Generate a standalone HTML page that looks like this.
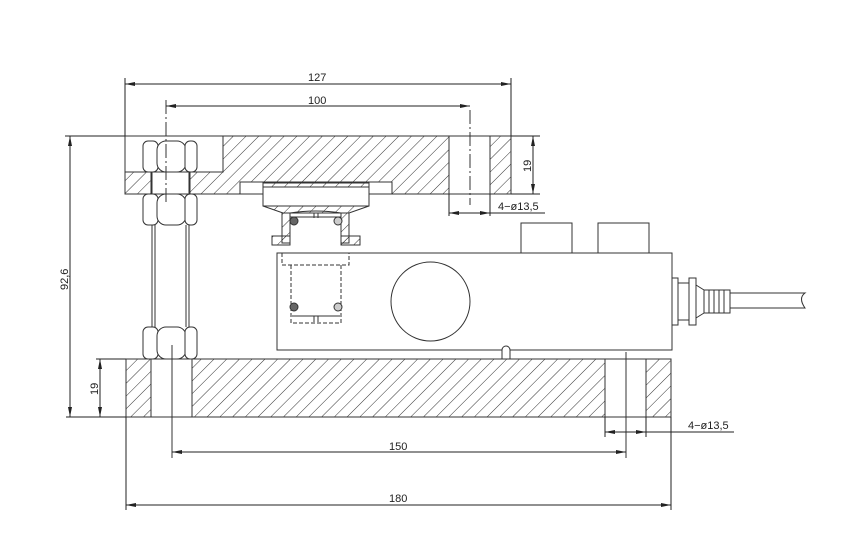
<!DOCTYPE html>
<html><head><meta charset="utf-8"><style>
html,body{margin:0;padding:0;background:#fff}
svg{display:block}
text{font-family:"Liberation Sans",sans-serif;font-size:11px;fill:#222}
</style></head><body>
<svg width="854" height="534" viewBox="0 0 854 534" xmlns="http://www.w3.org/2000/svg">
<defs>
<pattern id="h" patternUnits="userSpaceOnUse" width="9" height="9" patternTransform="rotate(45)">
<line x1="0" y1="0" x2="0" y2="9" stroke="#333" stroke-width="1"/>
</pattern>
<marker id="a" viewBox="0 0 10 4" refX="10" refY="2" markerWidth="10" markerHeight="4" orient="auto-start-reverse" markerUnits="userSpaceOnUse">
<path d="M0,0 L10,2 L0,4 z" fill="#222"/>
</marker>
</defs>
<g stroke="#333" stroke-width="1" fill="none">
<!-- top plate -->
<path d="M223,136 H449 V194 H392 V182 H240 V194 H190 V172 H223 Z" fill="url(#h)"/>
<rect x="125" y="172" width="26" height="22" fill="url(#h)"/>
<rect x="490" y="136" width="21" height="58" fill="url(#h)"/>
<rect x="125" y="136" width="386" height="58"/>
<line x1="125" y1="172" x2="223" y2="172"/>
<line x1="223" y1="136" x2="223" y2="172"/>
<line x1="449" y1="136" x2="449" y2="194"/>
<line x1="490" y1="136" x2="490" y2="194"/>
<line x1="470" y1="110" x2="470" y2="205" stroke-dasharray="14,3,2,3"/>
<!-- bolt -->
<line x1="152" y1="225" x2="152" y2="327"/><line x1="155" y1="225" x2="155" y2="327"/>
<line x1="186" y1="225" x2="186" y2="327"/><line x1="189" y1="225" x2="189" y2="327"/>
<line x1="152" y1="172" x2="152" y2="194"/><line x1="189" y1="172" x2="189" y2="194"/>
<g fill="#fff">
<rect x="143" y="141" width="15" height="31" rx="5"/><rect x="157" y="141" width="29" height="31" rx="9"/><rect x="185" y="141" width="12" height="31" rx="5"/>
<rect x="143" y="194" width="15" height="31" rx="5"/><rect x="157" y="194" width="29" height="31" rx="9"/><rect x="185" y="194" width="12" height="31" rx="5"/>
<rect x="143" y="327" width="15" height="32" rx="5"/><rect x="157" y="327" width="29" height="32" rx="9"/><rect x="185" y="327" width="12" height="32" rx="5"/>
</g>
<line x1="166" y1="100" x2="166" y2="205" stroke-dasharray="14,3,2,3"/>
<!-- rocker -->
<rect x="263" y="183" width="106" height="4" fill="url(#h)"/>
<rect x="263" y="187" width="106" height="19" fill="#fff"/>
<path d="M263,206 L283,213 H349 L369,206" fill="url(#h)"/>
<rect x="282" y="213" width="8" height="30" fill="url(#h)"/>
<rect x="341" y="213" width="8" height="30" fill="url(#h)"/>
<rect x="272" y="236" width="18" height="9" fill="url(#h)"/>
<rect x="341" y="236" width="19" height="9" fill="url(#h)"/>
<path d="M290,213 Q316,209 341,213 V217 H290 Z"/>
<line x1="314" y1="213" x2="314" y2="218"/><line x1="318" y1="213" x2="318" y2="218"/>
<circle cx="294" cy="221" r="4" fill="#666"/><circle cx="338" cy="221" r="4" fill="#ccc"/>
<!-- load cell -->
<rect x="521" y="223" width="51" height="30"/>
<rect x="598" y="223" width="51" height="30"/>
<path d="M277,253 H672 V350 H510 A4,4 0 0 0 502,350 H277 Z"/>
<line x1="502" y1="350" x2="502" y2="359"/><line x1="510" y1="350" x2="510" y2="359"/>
<circle cx="430.5" cy="301.5" r="39.5"/>
<g stroke-dasharray="4,2">
<path d="M282,253 V265 H349 V253"/>
<path d="M291,265 V323 H341 V265"/>
</g>
<line x1="292" y1="316" x2="340" y2="316"/>
<line x1="314" y1="316" x2="314" y2="322"/><line x1="318" y1="316" x2="318" y2="322"/>
<circle cx="294" cy="307" r="4" fill="#666"/><circle cx="338" cy="307" r="4" fill="#ccc"/>
<!-- connector -->
<rect x="672" y="278" width="6" height="47"/>
<rect x="678" y="283" width="11" height="37"/>
<rect x="689" y="278" width="7" height="47"/>
<path d="M696,285 L704,290 V313 L696,318"/>
<rect x="704" y="290" width="26" height="23"/>
<line x1="709" y1="290" x2="709" y2="313"/><line x1="714" y1="290" x2="714" y2="313"/><line x1="719" y1="290" x2="719" y2="313"/><line x1="724" y1="290" x2="724" y2="313"/>
<path d="M730,293 H805 Q798,298 805,308 H730"/>
<!-- base plate -->
<rect x="126" y="359" width="25" height="58" fill="url(#h)"/>
<rect x="192" y="359" width="413" height="58" fill="url(#h)"/>
<rect x="646" y="359" width="25" height="58" fill="url(#h)"/>
<rect x="126" y="359" width="545" height="58"/>
<line x1="151" y1="359" x2="151" y2="417"/><line x1="192" y1="359" x2="192" y2="417"/>
<line x1="605" y1="359" x2="605" y2="417"/><line x1="646" y1="359" x2="646" y2="417"/>
<line x1="172" y1="345" x2="172" y2="458"/>
<line x1="626" y1="352" x2="626" y2="458"/>
</g>
<!-- dimensions -->
<g stroke="#222" stroke-width="1" fill="none">
<line x1="125" y1="78" x2="125" y2="136"/><line x1="511" y1="78" x2="511" y2="136"/>
<line x1="125" y1="84" x2="511" y2="84" marker-start="url(#a)" marker-end="url(#a)"/>
<line x1="166" y1="106" x2="470" y2="106" marker-start="url(#a)" marker-end="url(#a)"/>
<line x1="511" y1="136" x2="540" y2="136"/><line x1="511" y1="194" x2="540" y2="194"/>
<line x1="533" y1="136" x2="533" y2="194" marker-start="url(#a)" marker-end="url(#a)"/>
<line x1="449" y1="194" x2="449" y2="216"/><line x1="490" y1="194" x2="490" y2="216"/>
<line x1="449" y1="213" x2="490" y2="213" marker-start="url(#a)" marker-end="url(#a)"/>
<line x1="490" y1="213" x2="545" y2="213"/>
<line x1="65" y1="136" x2="125" y2="136"/><line x1="66" y1="417" x2="126" y2="417"/>
<line x1="70" y1="136" x2="70" y2="417" marker-start="url(#a)" marker-end="url(#a)"/>
<line x1="96" y1="359" x2="126" y2="359"/>
<line x1="100" y1="359" x2="100" y2="417" marker-start="url(#a)" marker-end="url(#a)"/>
<line x1="126" y1="417" x2="126" y2="510"/><line x1="671" y1="417" x2="671" y2="510"/>
<line x1="126" y1="505" x2="671" y2="505" marker-start="url(#a)" marker-end="url(#a)"/>
<line x1="172" y1="452" x2="626" y2="452" marker-start="url(#a)" marker-end="url(#a)"/>
<line x1="605" y1="417" x2="605" y2="437"/><line x1="646" y1="417" x2="646" y2="437"/>
<line x1="605" y1="432" x2="646" y2="432" marker-start="url(#a)" marker-end="url(#a)"/>
<line x1="646" y1="432" x2="734" y2="432"/>
</g>
<text x="308" y="81">127</text>
<text x="308" y="104">100</text>
<text x="498" y="210">4−ø13,5</text>
<text x="688" y="429">4−ø13,5</text>
<text x="389" y="450">150</text>
<text x="389" y="502">180</text>
<text transform="translate(531,172) rotate(-90)">19</text>
<text transform="translate(98,395) rotate(-90)">19</text>
<text transform="translate(68,290) rotate(-90)">92,6</text>
</svg>
</body></html>
